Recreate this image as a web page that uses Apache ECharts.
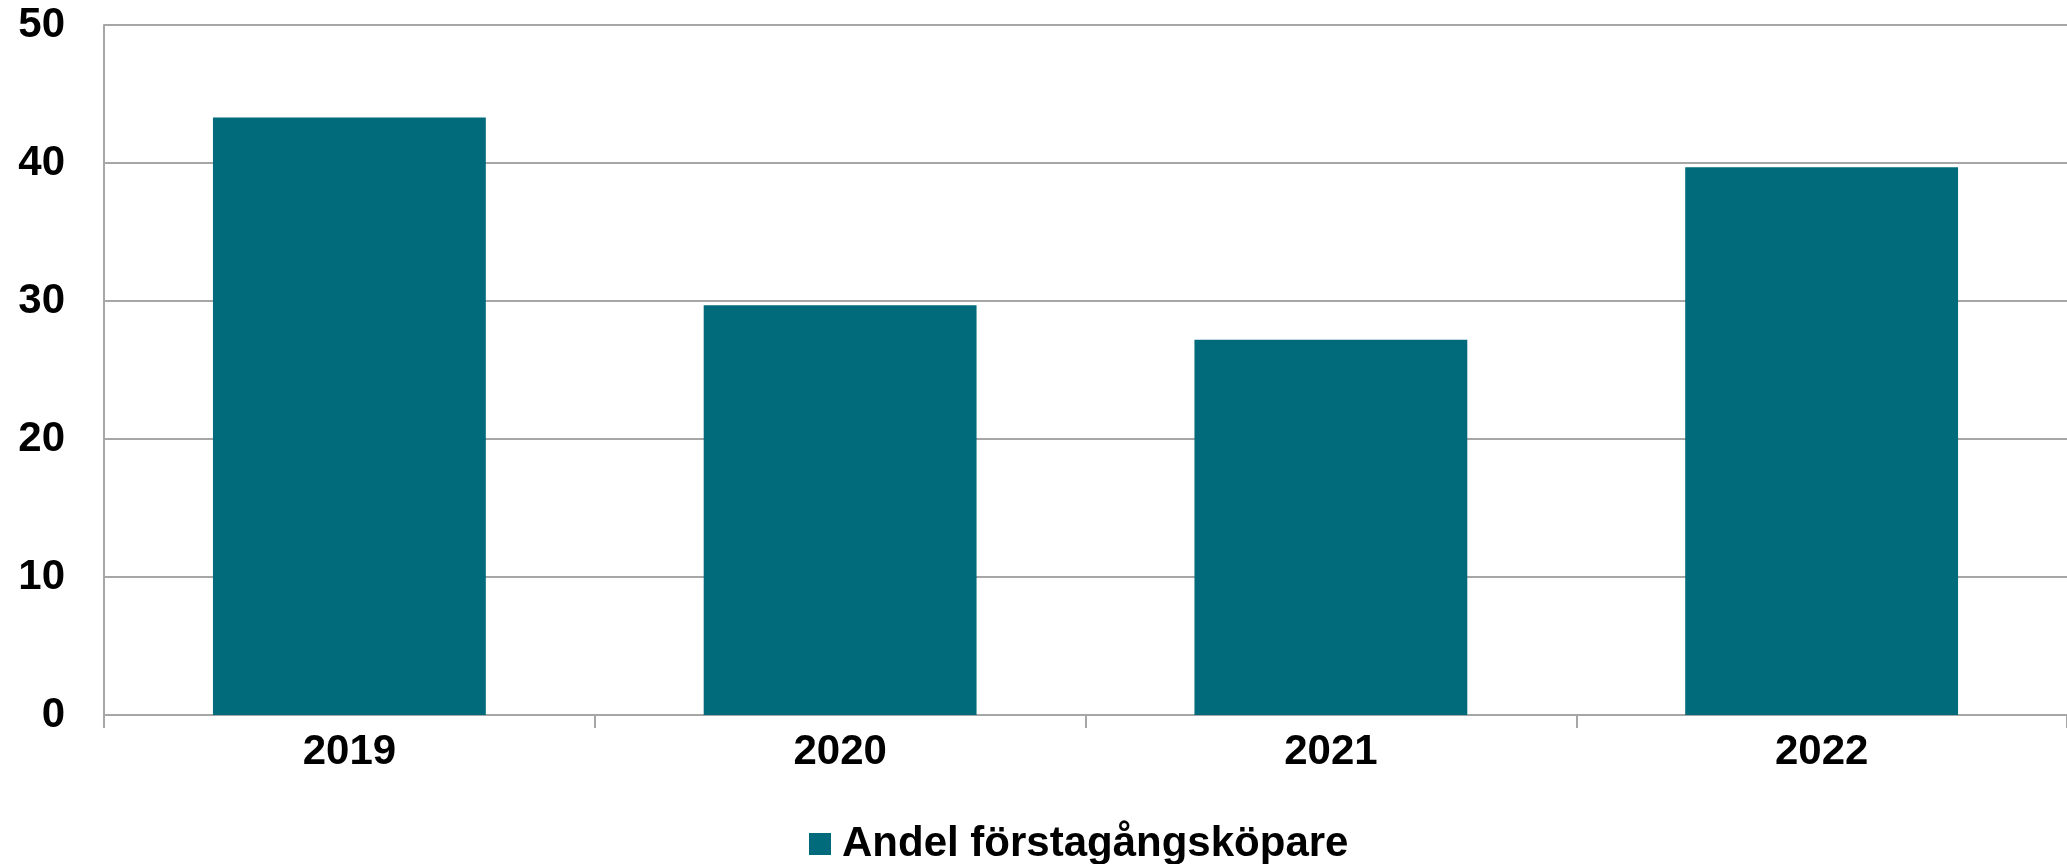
<!DOCTYPE html>
<html>
<head>
<meta charset="utf-8">
<script src="https://cdn.jsdelivr.net/npm/echarts@6/dist/echarts.min.js"></script>
<style>
  html, body { margin: 0; padding: 0; background: #fff; }
  #chart { width: 2067px; height: 864px; }
</style>
</head>
<body>
<div id="chart"></div>
<script>
  // data
  const years = ['2019', '2020', '2021', '2022']
  const firstTimeBuyers = [43.3, 29.7, 27.2, 39.7]
  const seriesName = 'Andel förstagångsköpare'

  const gridColor = '#a6a6a6'
  const barColor = '#016a7b'
  const font = "'Liberation Sans', Arial, Helvetica, sans-serif"

  const chart = echarts.init(document.getElementById('chart'))
  chart.setOption({
    animation: false,
    grid: { left: 104, right: 0, top: 25, bottom: 149 },
    legend: {
      left: 804,
      top: 818,
      itemWidth: 22,
      itemHeight: 22,
      icon: 'rect',
      textStyle: {
        fontFamily: font,
        fontWeight: 'bold',
        fontSize: 42,
        color: '#000',
        padding: [0, 0, 0, 6],
      },
      data: [seriesName],
    },
    xAxis: {
      type: 'category',
      data: years,
      axisLine: { show: true, lineStyle: { color: gridColor, width: 2 } },
      axisTick: { show: true, length: 13, lineStyle: { color: gridColor, width: 2 } },
      axisLabel: {
        margin: 16,
        fontFamily: font,
        fontWeight: 'bold',
        fontSize: 42,
        color: '#000',
      },
    },
    yAxis: {
      type: 'value',
      min: 0,
      max: 50,
      interval: 10,
      axisLine: { show: true, lineStyle: { color: gridColor, width: 2 } },
      axisTick: { show: false },
      splitLine: { lineStyle: { color: gridColor, width: 2 } },
      axisLabel: {
        margin: 39,
        fontFamily: font,
        fontWeight: 'bold',
        fontSize: 42,
        color: '#000',
      },
    },
    series: [
      {
        name: seriesName,
        type: 'bar',
        data: firstTimeBuyers,
        barWidth: '55.6%',
        itemStyle: { color: barColor },
      },
    ],
  })
</script>
</body>
</html>
